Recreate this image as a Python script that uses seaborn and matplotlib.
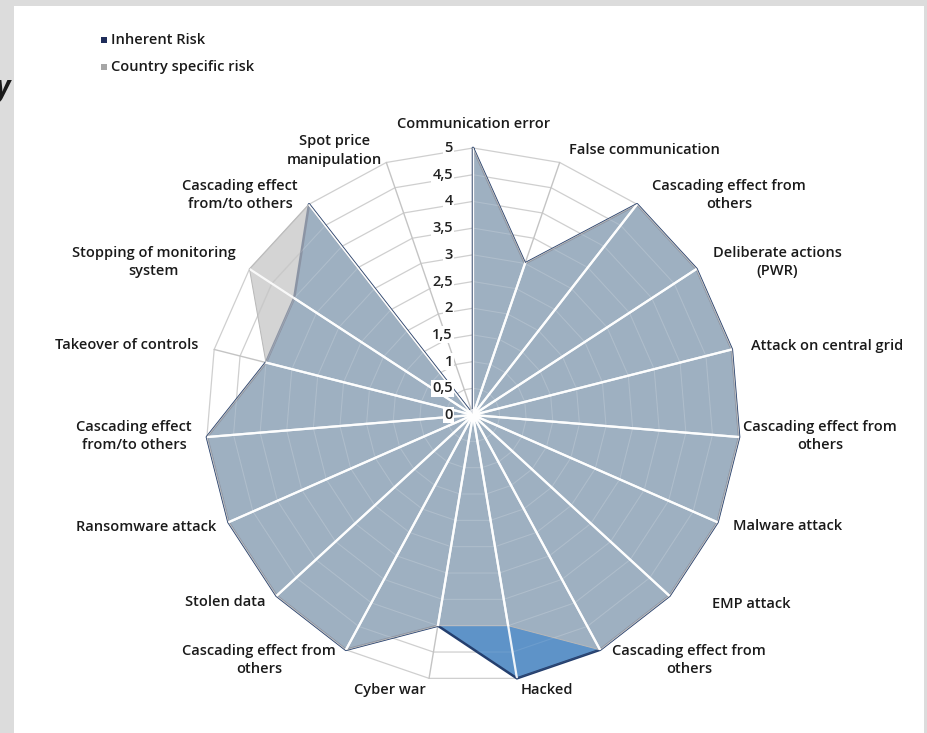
import numpy as np
import matplotlib
matplotlib.use("Agg")
import matplotlib.pyplot as plt
from matplotlib.patches import Rectangle
import seaborn as sns

# Risk categories, clockwise from the top
categories = [
    "Communication error",
    "False communication",
    "Cascading effect from\nothers",
    "Deliberate actions\n(PWR)",
    "Attack on central grid",
    "Cascading effect from\nothers",
    "Malware attack",
    "EMP attack",
    "Cascading effect from\nothers",
    "Hacked",
    "Cyber war",
    "Cascading effect from\nothers",
    "Stolen data",
    "Ransomware attack",
    "Cascading effect\nfrom/to others",
    "Takeover of controls",
    "Stopping of monitoring\nsystem",
    "Cascading effect\nfrom/to others",
    "Spot price\nmanipulation",
]
inherent_risk = [5, 3, 5, 5, 5, 5, 5, 5, 5, 5, 4, 5, 5, 5, 5, 4, 4, 5, 0]
country_risk = [5, 3, 5, 5, 5, 5, 5, 5, 5, 4, 4, 5, 5, 5, 5, 4, 5, 5, 0]
radial_ticks = [0, 0.5, 1, 1.5, 2, 2.5, 3, 3.5, 4, 4.5, 5]
radial_tick_labels = ["0", "0,5", "1", "1,5", "2", "2,5", "3", "3,5", "4", "4,5", "5"]
series_names = ["Inherent Risk", "Country specific risk"]

sns.set_theme(style="white")
plt.rcParams["font.family"] = ["Open Sans", "DejaVu Sans"]
FS = 10.5

W, H = 928, 733
fig = plt.figure(figsize=(W / 100, H / 100), dpi=100)
fig.patch.set_facecolor("#dcdcdc")
fig.add_artist(Rectangle((14 / W, 0), (924 - 14) / W, (H - 6) / H,
                         transform=fig.transFigure, facecolor="white",
                         edgecolor="none", zorder=0))
# fragment of neighbouring page text at the left margin
fig.text(-4 / W, 1 - 96 / H, "y", fontsize=20, fontweight="bold",
         color="#1a1a1a", style="italic")

# polar axes centred on the chart; r = 5 is 267 px
cx, cy, R5 = 473, 415, 267
rmax = 5.5
Rpx = R5 * rmax / 5
ax = fig.add_axes([(cx - Rpx) / W, (H - cy - Rpx) / H, 2 * Rpx / W, 2 * Rpx / H],
                  projection="polar")
ax.set_theta_offset(np.pi / 2)
ax.set_theta_direction(-1)
ax.set_ylim(0, rmax)
ax.set_axis_off()
ax.patch.set_alpha(0)

n = len(categories)
theta = np.arange(n) * 2 * np.pi / n
theta_c = np.append(theta, theta[0])
inh_c = np.append(inherent_risk, inherent_risk[0])
cty_c = np.append(country_risk, country_risk[0])

# grid: polygonal rings and spokes
for r in radial_ticks[1:]:
    ax.plot(theta_c, np.full(n + 1, r), color="#cfcfcf", lw=0.9, zorder=1)
for t in theta:
    ax.plot([t, t], [0, 5], color="#c4c4c4", lw=1.0, zorder=1)

# series fills
inh_patch = ax.fill(theta_c, inh_c, color="#5e93c8", lw=0, zorder=2)[0]
sns.lineplot(x=theta_c, y=inh_c, sort=False, estimator=None, ax=ax,
             color="#243f6e", lw=1.8, zorder=3)
cty_patch = ax.fill(theta_c, cty_c, color="#bfbfbf", alpha=0.67, lw=0, zorder=4)[0]
ax.plot(theta_c, cty_c, color="#b8b8b8", lw=0.7, zorder=4)

# grid lines show through the filled areas as light lines
for patch in (inh_patch, cty_patch):
    for r in radial_ticks[1:]:
        ln, = ax.plot(theta_c, np.full(n + 1, r), color="white", lw=0.8,
                      alpha=0.09, zorder=5)
        ln.set_clip_path(patch)
    for t in theta:
        ln, = ax.plot([t, t], [0, 5], color="white", lw=1.6, alpha=0.9, zorder=6)
        ln.set_clip_path(patch)
ax.scatter([0], [0], s=90, color="white", alpha=0.8, lw=0, zorder=7)

# radial value labels along the top spoke
for r, lbl in zip(radial_ticks, radial_tick_labels):
    ax.annotate(lbl, xy=(0, r), xytext=(-20 * 0.72, 0), textcoords="offset points",
                ha="right", va="center", fontsize=FS, fontweight="semibold",
                color="#222222", zorder=8,
                bbox=dict(boxstyle="square,pad=0.1", fc="white", ec="none"))

# category labels (offsets in pixels from the r=5 anchor)
label_offsets = [
    (1, -24), (85, -12), (92, -9), (81, -7), (95, -3), (81, -1), (70, 4),
    (82, 8), (89, 10), (30, 12), (-39, 12), (-87, 10), (-51, 6), (-82, 5),
    (-73, -1), (-87, -4), (-96, -7), (-69, -9), (-52, -12),
]
for t, lbl, (dx, dy) in zip(theta, categories, label_offsets):
    ax.annotate(lbl, xy=(t, 5), xytext=(dx * 0.72, -dy * 0.72),
                textcoords="offset points", ha="center", va="center",
                multialignment="center", fontsize=FS, fontweight="semibold",
                color="#1a1a1a", linespacing=1.4, zorder=8, annotation_clip=False)

# legend
legend_colors = ["#1f2d5a", "#a6a6a6"]
for i, (name, col) in enumerate(zip(series_names, legend_colors)):
    yc = 40 + 27 * i
    fig.add_artist(Rectangle((101 / W, 1 - (yc + 3) / H), 6 / W, 6 / H,
                             transform=fig.transFigure, facecolor=col,
                             edgecolor="none"))
    fig.text(111 / W, 1 - yc / H, name, ha="left", va="center", fontsize=FS,
             fontweight="semibold", color="#1a1a1a")

fig.savefig("out.png", dpi=100, facecolor=fig.get_facecolor())
